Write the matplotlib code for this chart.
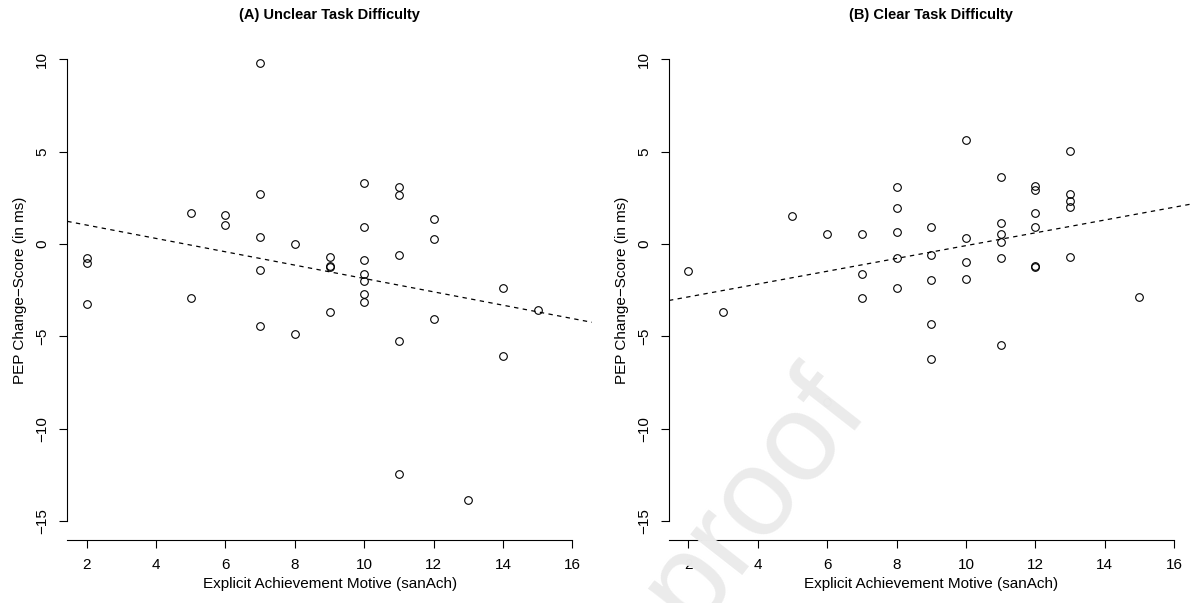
import numpy as np
import matplotlib
matplotlib.use('Agg')
import matplotlib.pyplot as plt

plt.rcParams['font.family'] = ['Liberation Sans', 'DejaVu Sans']

# (A) unclear task difficulty
xa = [2, 2, 2, 5, 5, 6, 6, 7, 7, 7, 7, 7, 8, 8, 9, 9, 9, 9, 10, 10, 10, 10, 10, 10, 10,
      11, 11, 11, 11, 11, 12, 12, 12, 13, 14, 14, 15]
ya = [-0.78, -1.05, -3.27, 1.70, -2.90, 1.57, 1.01, 9.82, 2.71, 0.36, -1.41, -4.44, 0.0, -4.89,
      -0.70, -1.21, -1.26, -3.70, 3.29, 0.94, -0.85, -1.61, -1.99, -2.72, -3.12,
      3.11, 2.64, -0.61, -5.27, -12.45, 1.35, 0.27, -4.06, -13.84, -2.40, -6.06, -3.57]

# (B) clear task difficulty
xb = [2, 3, 5, 6, 6, 7, 7, 7, 8, 8, 8, 8, 8, 9, 9, 9, 9, 9, 10, 10, 10, 10,
      11, 11, 11, 11, 11, 11, 12, 12, 12, 12, 12, 12, 13, 13, 13, 13, 13, 15]
yb = [-1.46, -3.70, 1.53, 0.52, -8.54, 0.52, -1.64, -2.94, 3.10, 1.93, 0.63, -0.78, -2.40,
      0.94, -0.61, -1.95, -4.33, -6.24, 5.61, 0.34, -0.97, -1.89,
      3.61, 1.15, 0.56, 0.09, -0.78, -5.49, 3.14, 2.91, 1.70, 0.94, -1.19, -1.24,
      5.04, 2.71, 2.31, 2.02, -0.72, -2.85]

titles = ['(A) Unclear Task Difficulty', '(B) Clear Task Difficulty']
xticks = [2, 4, 6, 8, 10, 12, 14, 16]
yticks = [-15, -10, -5, 0, 5, 10]

fig = plt.figure(figsize=(11.95, 6.03), dpi=100)
ax1 = fig.add_axes([0.0563, 0.1053, 0.439, 0.827])
ax2 = fig.add_axes([0.5598, 0.1053, 0.439, 0.827])

for ax, x, y, t in [(ax1, xa, ya, titles[0]), (ax2, xb, yb, titles[1])]:
    ax.plot(x, y, 'o', mfc='none', mec='black', ms=5.5, mew=0.8)
    # least squares line, drawn across the whole panel
    b, a = np.polyfit(x, y, 1)
    xl = np.array([1.44, 16.56])
    ax.plot(xl, a + b * xl, color='black', lw=0.9, dashes=(3.5, 3.5))
    ax.set_xlim(1.44, 16.56)
    ax.set_ylim(-16, 11)
    ax.set_xticks(xticks)
    ax.set_yticks(yticks)
    ax.set_yticklabels([str(v).replace('-', '\u2212') for v in yticks], rotation=90, va='center')
    ax.tick_params(direction='out', length=6, width=0.8, labelsize=11, pad=7)
    ax.spines['top'].set_visible(False)
    ax.spines['right'].set_visible(False)
    ax.spines['left'].set_bounds(-15, 10)
    ax.spines['bottom'].set_bounds(1.44, 16)
    ax.set_xlabel('Explicit Achievement Motive (sanAch)', fontsize=11, labelpad=4)
    ax.set_ylabel('PEP Change\u2212Score (in ms)', fontsize=11, labelpad=6)
    ax.set_title(t, fontsize=10.5, fontweight='bold', pad=16)

# faint watermark
fig.text(0.632, 0.175, 'proof', fontsize=90, color='#ebebeb', rotation=52,
         ha='center', va='center', zorder=10)

fig.savefig('out.png', dpi=100)
